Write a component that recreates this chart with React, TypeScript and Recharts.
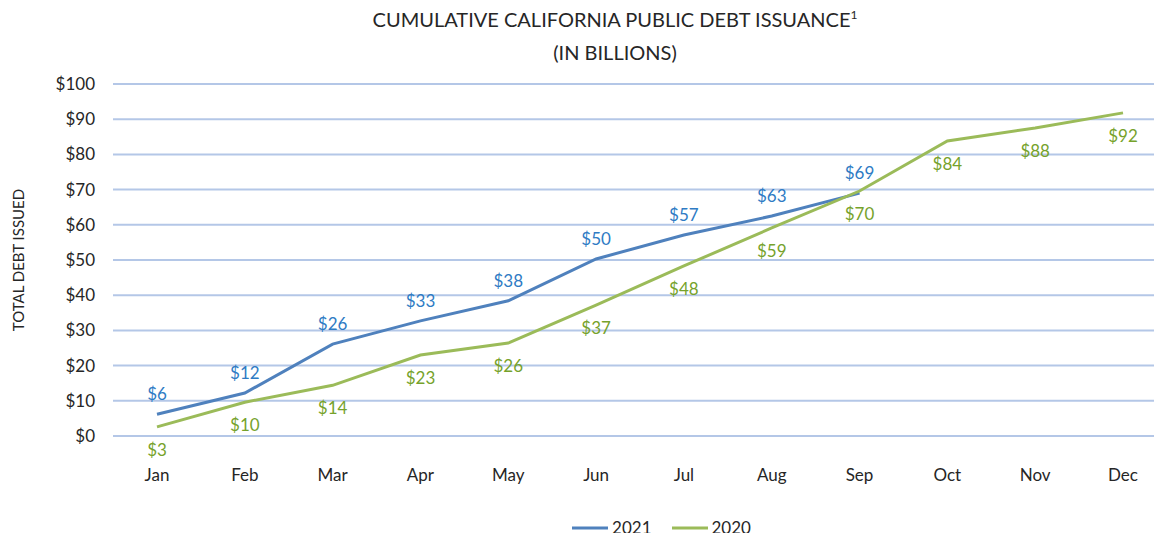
import { LineChart, Line, XAxis, YAxis, CartesianGrid, Legend, LabelList } from 'recharts'

const months = ['Jan', 'Feb', 'Mar', 'Apr', 'May', 'Jun', 'Jul', 'Aug', 'Sep', 'Oct', 'Nov', 'Dec']
const debt2021 = [6.2, 12.2, 26.1, 32.7, 38.4, 50.3, 57.1, 62.5, 69.0]
const debt2020 = [2.6, 9.6, 14.4, 23.0, 26.4, 37.2, 48.3, 59.1, 69.6, 83.8, 87.5, 91.8]
const yTicks = [0, 10, 20, 30, 40, 50, 60, 70, 80, 90, 100]

const data = months.map((m, i) => ({
  month: m,
  y2021: i < debt2021.length ? debt2021[i] : null,
  y2020: debt2020[i],
}))

const FONT = 'Lato, "Open Sans", sans-serif'
const money = (v: any) => (v == null ? '' : `$${Math.round(Number(v))}`)

const LegendContent = ({ payload }: { payload?: { value: string; color: string }[] }) => {
  const items = [...(payload || [])].sort((a, b) => String(b.value).localeCompare(String(a.value)))
  return (
    <div style={{ display: 'flex', justifyContent: 'center', gap: 20, paddingLeft: 156, fontFamily: FONT, fontSize: 17, color: '#262626' }}>
      {items.map((p) => (
        <div key={p.value} style={{ display: 'flex', alignItems: 'center', gap: 4 }}>
          <svg width={36} height={10}><line x1={0} y1={5} x2={36} y2={5} stroke={p.color} strokeWidth={3} /></svg>
          <span>{p.value}</span>
        </div>
      ))}
    </div>
  )
}

export default function App() {
  return (
    <div style={{ position: 'relative', width: 1162, height: 541, margin: -8, overflow: 'hidden', background: '#fff', fontFamily: FONT }}>
      <div style={{ position: 'absolute', top: -2, left: 0, width: 1230, textAlign: 'center', fontSize: 20, color: '#262626', lineHeight: '33px' }}>
        <div>CUMULATIVE CALIFORNIA PUBLIC DEBT ISSUANCE<sup style={{ fontSize: 12 }}>1</sup></div>
        <div>(IN BILLIONS)</div>
      </div>
      <LineChart width={1170} height={541} data={data} margin={{ top: 84, right: 3, left: 0, bottom: 0 }}>
        <CartesianGrid vertical={false} stroke="#b4c7e7" strokeWidth={2} />
        <XAxis
          dataKey="month"
          axisLine={false}
          tickLine={false}
          height={81}
          tickMargin={27}
          padding={{ left: 44, right: 44 }}
          tick={{ fontSize: 17, fill: '#262626', fontFamily: FONT }}
        />
        <YAxis
          width={113}
          domain={[0, 100]}
          ticks={yTicks}
          axisLine={false}
          tickLine={false}
          tickMargin={12}
          tickFormatter={(v) => `$${v}`}
          tick={{ fontSize: 17, fill: '#262626', fontFamily: FONT }}
          label={{ value: 'TOTAL DEBT ISSUED', angle: -90, position: 'center', dx: -38, style: { fontSize: 15, fill: '#262626', fontFamily: FONT } }}
        />
        <Legend verticalAlign="bottom" height={24} content={<LegendContent />} />
        <Line name="2021" type="linear" dataKey="y2021" stroke="#4f81bd" strokeWidth={3} dot={false} isAnimationActive={false}>
          <LabelList dataKey="y2021" position="top" offset={14} formatter={money} style={{ fontSize: 17, fill: '#2e7bc4', fontFamily: FONT }} />
        </Line>
        <Line name="2020" type="linear" dataKey="y2020" stroke="#9bbb59" strokeWidth={3} dot={false} isAnimationActive={false}>
          <LabelList dataKey="y2020" position="bottom" offset={17} formatter={money} style={{ fontSize: 17, fill: '#76a22b', fontFamily: FONT }} />
        </Line>
      </LineChart>
    </div>
  )
}
